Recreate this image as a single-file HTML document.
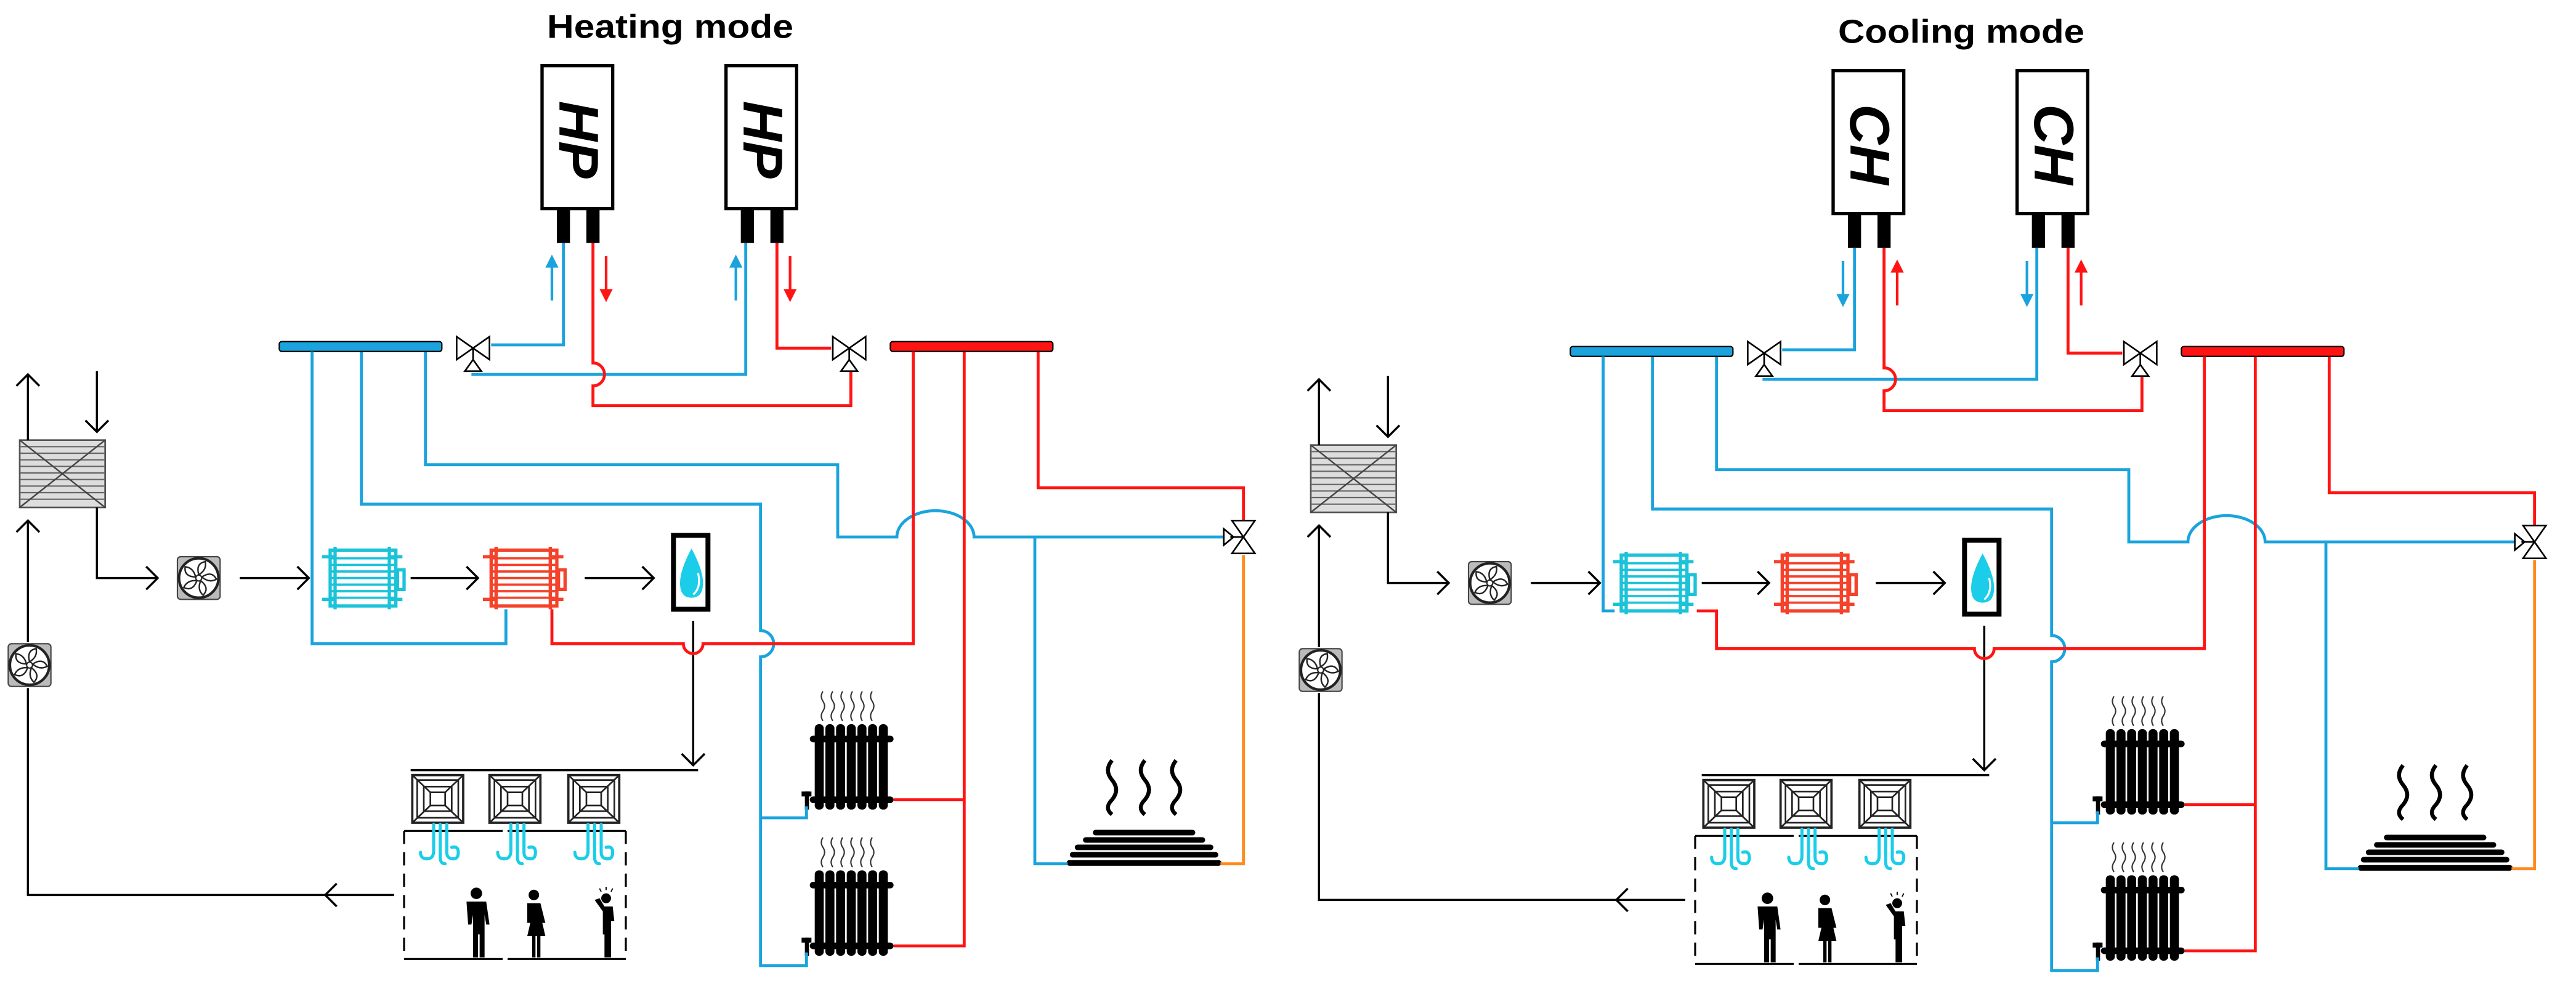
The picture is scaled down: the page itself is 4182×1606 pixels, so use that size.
<!DOCTYPE html>
<html><head><meta charset="utf-8"><style>
html,body{margin:0;padding:0;background:#fff;}
svg{display:block;}
</style></head><body>
<svg width="4182" height="1606" viewBox="0 0 1568.25 602.25" preserveAspectRatio="none" xmlns="http://www.w3.org/2000/svg">
<defs>
<g id="valveH">
  <path d="M-10,-7 L10,7 L10,-7 L-10,7 Z" fill="#fff" stroke="#000" stroke-width="1"/>
  <path d="M0,0 L0,8 M-5,14 L5,14 L0,7 Z" fill="#fff" stroke="#000" stroke-width="1"/>
</g>
<g id="fan">
  <rect x="-13" y="-13" width="26" height="26" rx="2" fill="#bbb" stroke="#444" stroke-width="0.8"/>
  <circle r="12" fill="#fff" stroke="#222" stroke-width="1.6"/>
  <g fill="#fff" stroke="#222" stroke-width="0.9">
    <path d="M0,-2 Q-2,-9 4,-10 Q5,-5 0,-2Z"/>
    <path d="M0,-2 Q-2,-9 4,-10 Q5,-5 0,-2Z" transform="rotate(72)"/>
    <path d="M0,-2 Q-2,-9 4,-10 Q5,-5 0,-2Z" transform="rotate(144)"/>
    <path d="M0,-2 Q-2,-9 4,-10 Q5,-5 0,-2Z" transform="rotate(216)"/>
    <path d="M0,-2 Q-2,-9 4,-10 Q5,-5 0,-2Z" transform="rotate(288)"/>
  </g>
  <circle r="1.8" fill="#fff" stroke="#222" stroke-width="0.8"/>
</g>
<g id="coil">
  <rect x="6" y="2" width="40" height="34" fill="none" stroke-width="2"/>
  <path d="M6,7H46M6,11H46M6,15H46M6,19H46M6,23H46M6,27H46M6,31H46" stroke-width="1.4"/>
  <path d="M9,0V38M42,0V38M1,6H9M1,32H9M42,6H50M42,32H50M47,14h4v12h-4z" fill="none" stroke-width="2"/>
</g>
<g id="diff">
  <rect x="0" y="0" width="31" height="29" fill="#fff" stroke="#222" stroke-width="1.4"/>
  <rect x="3" y="3" width="25" height="23" fill="none" stroke="#222" stroke-width="1"/>
  <rect x="7" y="7" width="17" height="15" fill="none" stroke="#222" stroke-width="1"/>
  <rect x="11" y="10.5" width="9" height="8" fill="none" stroke="#222" stroke-width="1"/>
  <path d="M0,0L11,10.5M31,0L20,10.5M0,29L11,18.5M31,29L20,18.5" stroke="#222" stroke-width="1"/>
</g>
<g id="squig" fill="none" stroke="#1bcde8" stroke-width="1.9" stroke-linecap="round">
  <path d="M-3,0 V16 Q-3,21 -7,21 Q-11,21 -11,17"/>
  <path d="M1,0 V20 Q1,24 4,24"/>
  <path d="M5,0 V17 Q5,21 9,21 Q12,21 12,17 Q12,13 8,14"/>
</g>
<g id="rad">
  <g stroke="#333" stroke-width="0.8" fill="none">
    <path d="M10,0 q-2,3 0,6 q2,3 0,6 q-2,3 0,6"/>
    <path d="M16,0 q-2,3 0,6 q2,3 0,6 q-2,3 0,6"/>
    <path d="M22,0 q-2,3 0,6 q2,3 0,6 q-2,3 0,6"/>
    <path d="M28,0 q-2,3 0,6 q2,3 0,6 q-2,3 0,6"/>
    <path d="M34,0 q-2,3 0,6 q2,3 0,6 q-2,3 0,6"/>
    <path d="M40,0 q-2,3 0,6 q2,3 0,6 q-2,3 0,6"/>
  </g>
  <g fill="#000">
    <rect x="5" y="20" width="5.5" height="52" rx="2.5"/>
    <rect x="11.5" y="20" width="5.5" height="52" rx="2.5"/>
    <rect x="18" y="20" width="5.5" height="52" rx="2.5"/>
    <rect x="24.5" y="20" width="5.5" height="52" rx="2.5"/>
    <rect x="31" y="20" width="5.5" height="52" rx="2.5"/>
    <rect x="37.5" y="20" width="5.5" height="52" rx="2.5"/>
    <rect x="44" y="20" width="5.5" height="52" rx="2.5"/>
    <rect x="2" y="27" width="51" height="4" rx="2"/>
    <rect x="2" y="64" width="51" height="4" rx="2"/>
    <rect x="-3" y="61" width="6" height="3"/>
    <rect x="-1" y="61" width="2.5" height="11"/>
  </g>
</g>
<g id="common">
  <rect x="12" y="268" width="52" height="41" fill="#ddd" stroke="#555" stroke-width="1"/>
  <path d="M12,272H64M12,276H64M12,280H64M12,284H64M12,288H64M12,292H64M12,296H64M12,300H64M12,304H64" stroke="#666" stroke-width="0.8"/>
  <path d="M12,268L64,309M64,268L12,309" stroke="#444" stroke-width="0.9"/>
  <g fill="none" stroke="#000" stroke-width="1.3">
    <path d="M17,268V228M10,235L17,228L24,235"/>
    <path d="M59,226V263M52,256L59,263L66,256"/>
    <path d="M59,309V352H96M89,345L96,352L89,359"/>
    <path d="M146,352H188M181,345L188,352L181,359"/>
    <path d="M250,352H291M284,345L291,352L284,359"/>
    <path d="M356,352H398M391,345L398,352L391,359"/>
    <path d="M17,391V317M10,324L17,317L24,324"/>
    <path d="M17,419V545H240M205,538L198,545L205,552"/>
    <path d="M422,378V466M415,459L422,466L429,459"/>
    <path d="M250,469H425"/>
  </g>
  <use href="#fan" transform="translate(121,352)"/>
  <use href="#fan" transform="translate(18,405)"/>
  <rect x="410" y="326" width="21" height="45" fill="#fff" stroke="#000" stroke-width="3"/>
  <path d="M421,334 Q414,347 414,355 Q414,364 421,364 Q428,364 428,355 Q428,347 421,334Z" fill="#1bcde8"/>
  <path d="M425,349 Q427,358 422,362" stroke="#fff" stroke-width="1.2" fill="none"/>
  <use href="#diff" transform="translate(251,472)"/>
  <use href="#diff" transform="translate(298,472)"/>
  <use href="#diff" transform="translate(346,472)"/>
  <path d="M246,506H381M246,584H381" stroke="#000" stroke-width="1.2" stroke-dasharray="60,3,200,3"/>
  <path d="M246,506V584M381,506V584" stroke="#000" stroke-width="1.2" stroke-dasharray="8,5"/>
  <use href="#squig" transform="translate(267,502)"/>
  <use href="#squig" transform="translate(314,502)"/>
  <use href="#squig" transform="translate(361,502)"/>
  <g fill="#000">
    <circle cx="290" cy="544" r="3.5"/>
    <path d="M284,549h12l2,14h-2l-1,-6v26h-3v-14h-1v14h-3v-26l-1,6h-2z"/>
    <circle cx="325" cy="545" r="3.2"/>
    <path d="M321,550h8l3,12h-2l-1,-5l3,13h-3v13h-2v-13h-1v13h-2v-13h-3l3,-13l-1,5h-2z"/>
    <circle cx="369" cy="547" r="3"/>
    <path d="M362,548l3,-1l3,5h5l1,9l-2,0v22h-4v-14h-1v-14z"/>
  </g>
  <path d="M365,541l1,2M369,540v2M373,541l-1,2" stroke="#000" stroke-width="0.7"/>
  <use href="#rad" transform="translate(491,421)"/>
  <use href="#rad" transform="translate(491,510)"/>
  <g stroke="#000" stroke-width="3.4" stroke-linecap="round">
    <path d="M667,507H726M661,511.5H732M656,516H737M653,520.5H740M651,525.5H742"/>
  </g>
  <g fill="none" stroke="#000" stroke-width="2.4">
    <path d="M677,463 q-5,6 0,12 q5,6 0,12 q-5,5 0,9"/>
    <path d="M697,463 q-5,6 0,12 q5,6 0,12 q-5,5 0,9"/>
    <path d="M716,463 q-5,6 0,12 q5,6 0,12 q-5,5 0,9"/>
  </g>
  <rect x="330" y="40" width="43" height="87" fill="#fff" stroke="#000" stroke-width="2"/>
  <rect x="442" y="40" width="43" height="87" fill="#fff" stroke="#000" stroke-width="2"/>
  <rect x="339" y="127" width="8" height="21" fill="#000"/>
  <rect x="357" y="127" width="8" height="21" fill="#000"/>
  <rect x="451" y="127" width="8" height="21" fill="#000"/>
  <rect x="469" y="127" width="8" height="21" fill="#000"/>
  <g fill="none" stroke-width="1.8" stroke-linejoin="miter">
    <g stroke="#1aa3dd">
      <path d="M343,148V210H299"/>
      <path d="M287,228H454V148"/>
      <path d="M259,214V283H510V327H546A23.5,16 0 0 1 593,327H747"/>
      <path d="M630,327V526H650"/>
      <path d="M220,214V307H463V384A8,8 0 0 1 463,400V588H491V580"/>
      <path d="M463,498H491V491"/>
    </g>
    <g stroke="#ff1414">
      <path d="M361,148V221A7,7 0 0 1 361,235V247H518V226"/>
      <path d="M473,148V212H506"/>
      <path d="M587,214V576H544"/>
      <path d="M587,487H544"/>
      <path d="M632,214V297H757V317"/>
    </g>
    <path d="M757,338V526H743" stroke="#ff8a1e"/>
  </g>
  <rect x="170" y="208" width="99" height="6" rx="1.5" fill="#1aa3dd" stroke="#000" stroke-width="0.8"/>
  <rect x="542" y="208" width="99" height="6" rx="1.5" fill="#ff1414" stroke="#000" stroke-width="0.8"/>
  <use href="#valveH" transform="translate(288,212)"/>
  <use href="#valveH" transform="translate(517,212)"/>
  <g transform="translate(757,327)">
    <path d="M-7,-10 L7,-10 L-7,10 L7,10 Z" fill="#fff" stroke="#000" stroke-width="1"/>
    <path d="M0,0 L-8,0 M-12,-5 L-12,5 L-6,0 Z" fill="#fff" stroke="#000" stroke-width="1"/>
  </g>
</g>
</defs>

<use href="#common"/>
<use href="#coil" stroke="#1bc3d9" transform="translate(195,333)"/>
<use href="#coil" stroke="#f5422a" transform="translate(293,333)"/>
<g fill="none" stroke-width="1.8">
  <path d="M190,214V392H308V371" stroke="#1aa3dd"/>
  <path d="M336,371V392H416A6,6 0 0 0 428,392H556V214" stroke="#ff1414"/>
</g>
<g stroke-width="1.6">
  <path d="M336,183V162" stroke="#1aa3dd"/><path d="M332,163L336,155L340,163Z" fill="#1aa3dd"/>
  <path d="M448,183V162" stroke="#1aa3dd"/><path d="M444,163L448,155L452,163Z" fill="#1aa3dd"/>
  <path d="M369,156V177" stroke="#ff1414"/><path d="M365,176L369,184L373,176Z" fill="#ff1414"/>
  <path d="M481,156V177" stroke="#ff1414"/><path d="M477,176L481,184L485,176Z" fill="#ff1414"/>
</g>
<text x="408" y="23" text-anchor="middle" font-family="Liberation Sans, sans-serif" font-weight="bold" font-size="20" textLength="150" lengthAdjust="spacingAndGlyphs">Heating mode</text>
<text transform="translate(352,85) rotate(90)" text-anchor="middle" dominant-baseline="central" font-family="Liberation Sans, sans-serif" font-weight="bold" font-style="italic" font-size="34">HP</text>
<text transform="translate(464,85) rotate(90)" text-anchor="middle" dominant-baseline="central" font-family="Liberation Sans, sans-serif" font-weight="bold" font-style="italic" font-size="34">HP</text>

<g transform="translate(786,3)">
<use href="#common"/>
<use href="#coil" stroke="#1bc3d9" transform="translate(195,333)"/>
<use href="#coil" stroke="#f5422a" transform="translate(293,333)"/>
<g fill="none" stroke-width="1.8">
  <path d="M190,214V369H197" stroke="#1aa3dd"/>
  <path d="M247,369H259V392H416A6,6 0 0 0 428,392H556V214" stroke="#ff1414"/>
</g>
<g stroke-width="1.6">
  <path d="M336,156V177" stroke="#1aa3dd"/><path d="M332,176L336,184L340,176Z" fill="#1aa3dd"/>
  <path d="M448,156V177" stroke="#1aa3dd"/><path d="M444,176L448,184L452,176Z" fill="#1aa3dd"/>
  <path d="M369,183V162" stroke="#ff1414"/><path d="M365,163L369,155L373,163Z" fill="#ff1414"/>
  <path d="M481,183V162" stroke="#ff1414"/><path d="M477,163L481,155L485,163Z" fill="#ff1414"/>
</g>
<text x="408" y="23" text-anchor="middle" font-family="Liberation Sans, sans-serif" font-weight="bold" font-size="20" textLength="150" lengthAdjust="spacingAndGlyphs">Cooling mode</text>
<text transform="translate(352,85) rotate(90)" text-anchor="middle" dominant-baseline="central" font-family="Liberation Sans, sans-serif" font-weight="bold" font-style="italic" font-size="34">CH</text>
<text transform="translate(464,85) rotate(90)" text-anchor="middle" dominant-baseline="central" font-family="Liberation Sans, sans-serif" font-weight="bold" font-style="italic" font-size="34">CH</text>
</g>
</svg>
</body></html>
